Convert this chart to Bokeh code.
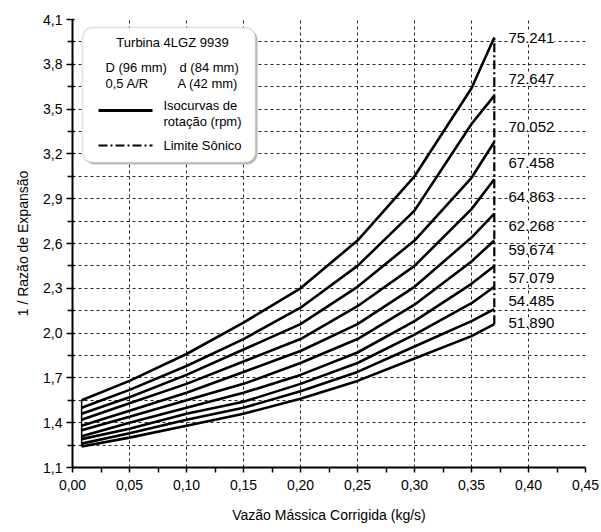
from bokeh.plotting import figure
from bokeh.models import (ColumnDataSource, FixedTicker, CustomJSTickFormatter,
                          LabelSet, Label, BoxAnnotation)
from bokeh.core.properties import value
from bokeh.embed import file_html
from bokeh.resources import INLINE

# ---------------- data ----------------
mass_flow = [0.008, 0.05, 0.10, 0.15, 0.20, 0.25, 0.30, 0.35, 0.37]

rpm_labels = ["51.890", "54.485", "57.079", "59.674", "62.268",
              "64.863", "67.458", "70.052", "72.647", "75.241"]

curve_51890 = [1.24, 1.30, 1.38, 1.46, 1.56, 1.68, 1.83, 1.98, 2.06]
curve_54485 = [1.26, 1.33, 1.42, 1.50, 1.61, 1.74, 1.91, 2.08, 2.16]
curve_57079 = [1.29, 1.36, 1.46, 1.54, 1.66, 1.80, 1.99, 2.20, 2.31]
curve_59674 = [1.31, 1.40, 1.50, 1.60, 1.72, 1.87, 2.08, 2.33, 2.45]
curve_62268 = [1.35, 1.44, 1.55, 1.66, 1.80, 1.96, 2.19, 2.48, 2.62]
curve_64863 = [1.38, 1.48, 1.60, 1.74, 1.88, 2.06, 2.31, 2.64, 2.80]
curve_67458 = [1.42, 1.53, 1.66, 1.81, 1.96, 2.18, 2.45, 2.83, 3.03]
curve_70052 = [1.46, 1.57, 1.72, 1.89, 2.06, 2.31, 2.62, 3.04, 3.28]
curve_72647 = [1.50, 1.62, 1.78, 1.96, 2.17, 2.45, 2.82, 3.40, 3.59]
curve_75241 = [1.55, 1.68, 1.86, 2.07, 2.30, 2.62, 3.05, 3.64, 3.98]

curves = [curve_51890, curve_54485, curve_57079, curve_59674, curve_62268,
          curve_64863, curve_67458, curve_70052, curve_72647, curve_75241]

x_ticks = [0.00, 0.05, 0.10, 0.15, 0.20, 0.25, 0.30, 0.35, 0.40, 0.45]
y_ticks = [1.1, 1.4, 1.7, 2.0, 2.3, 2.6, 2.9, 3.2, 3.5, 3.8, 4.1]

# ---------------- layout helpers (pixel -> data) ----------------
X0, X1, Y0, Y1 = 0.0, 0.45, 1.1, 4.1
FL, FR, FT, FB = 72, 585, 19, 467  # frame in pixels
W, H = 601, 532


def px_x(px):
    return X0 + (px - FL) / (FR - FL) * (X1 - X0)


def px_y(py):
    return Y0 + (FB - py) / (FB - FT) * (Y1 - Y0)


FONT = "Liberation Sans"

p = figure(width=W, height=H, x_range=(X0, X1), y_range=(Y0, Y1),
           output_backend="svg", toolbar_location=None,
           min_border_left=FL, min_border_right=W - FR,
           min_border_top=FT, min_border_bottom=H - FB)
p.outline_line_color = None
p.background_fill_color = "white"
p.border_fill_color = "white"

# axes
for ax in (p.xaxis[0], p.yaxis[0]):
    ax.axis_line_width = 2
    ax.axis_line_color = "black"
    ax.major_tick_line_width = 1.5
    ax.minor_tick_line_width = 1.5
    ax.major_tick_line_color = "black"
    ax.minor_tick_line_color = "black"
    ax.major_label_text_font = FONT
    ax.major_label_text_font_size = "14px"
    ax.major_label_text_color = "black"
    ax.axis_label_text_font = FONT
    ax.axis_label_text_font_size = "14px"
    ax.axis_label_text_font_style = "normal"
    ax.axis_label_text_color = "black"

p.xaxis.ticker = FixedTicker(ticks=x_ticks,
                             minor_ticks=[round(t + 0.025, 3) for t in x_ticks[:-1]])
p.yaxis.ticker = FixedTicker(ticks=y_ticks,
                             minor_ticks=[round(t + 0.15, 2) for t in y_ticks[:-1]])
p.xaxis.formatter = CustomJSTickFormatter(code="return tick.toFixed(2).replace('.', ',');")
p.yaxis.formatter = CustomJSTickFormatter(code="return tick.toFixed(1).replace('.', ',');")
p.xaxis.major_tick_in = 0
p.xaxis.major_tick_out = 5
p.xaxis.minor_tick_in = 0
p.xaxis.minor_tick_out = 5
p.yaxis.major_tick_in = 2
p.yaxis.major_tick_out = 6
p.yaxis.minor_tick_in = 2
p.yaxis.minor_tick_out = 5
p.xaxis.major_label_standoff = 7
p.yaxis.major_label_standoff = 4
p.xaxis.axis_label = "Vazão Mássica Corrigida (kg/s)"
p.yaxis.axis_label = "1 / Razão de Expansão"
p.xaxis.axis_label_standoff = 14
p.yaxis.axis_label_standoff = 9

# grid
p.xgrid.ticker = FixedTicker(ticks=x_ticks[1:-1])
p.ygrid.ticker = FixedTicker(ticks=[round(1.25 + 0.15 * i, 2) for i in range(19)])
for g in (p.xgrid[0], p.ygrid[0]):
    g.grid_line_color = "black"
    g.grid_line_width = 1
    g.grid_line_dash = "3 3"
    g.grid_line_alpha = 0.85

# curves
for ys in curves:
    p.line(mass_flow, ys, line_color="black", line_width=2.6)

# start connector and sonic limit
p.line([mass_flow[0], mass_flow[0]], [curves[0][0], curves[-1][0]],
       line_color="black", line_width=1.5)
p.line([mass_flow[-1], mass_flow[-1]], [curves[0][-1], curves[-1][-1]],
       line_color="black", line_width=2.2, line_dash="9 3 2 3")

# rpm labels
label_y = [px_y(v) for v in (322, 300, 277, 249, 225, 196, 162, 126, 78, 37)]
src = ColumnDataSource(dict(x=[px_x(508)] * len(rpm_labels), y=label_y, t=rpm_labels))
p.add_layout(LabelSet(x="x", y="y", text="t", source=src,
                      text_font=value(FONT), text_font_size="15px",
                      text_color="black", text_baseline="middle", text_align="left",
                      background_fill_color="white"))

# legend box
p.add_layout(BoxAnnotation(left=px_x(84), right=px_x(257), top=px_y(29), bottom=px_y(164),
                           fill_color="#bbbbbb", fill_alpha=1, line_color=None,
                           border_radius=10))
p.add_layout(BoxAnnotation(left=px_x(82), right=px_x(255), top=px_y(27), bottom=px_y(162),
                           fill_color="white", fill_alpha=1, line_color="#9a9a9a",
                           line_width=1.5, border_radius=10))


def lbl(text, px, py, align="left"):
    p.add_layout(Label(x=px_x(px), y=px_y(py), text=text, text_font=FONT,
                       text_font_size="13px", text_color="black",
                       text_align=align, text_baseline="middle"))


lbl("Turbina 4LGZ 9939", 172, 42, "center")
lbl("D (96 mm)", 105, 67)
lbl("d (84 mm)", 179, 67)
lbl("0,5 A/R", 105, 83)
lbl("A (42 mm)", 177, 83)
lbl("Isocurvas de", 163, 105)
lbl("rotação (rpm)", 163, 121)
lbl("Limite Sônico", 163, 145)

p.line([px_x(98), px_x(152)], [px_y(110), px_y(110)], line_color="black", line_width=3,
       level="overlay")
p.line([px_x(98), px_x(152)], [px_y(145), px_y(145)], line_color="black", line_width=2,
       line_dash="9 3 2 3", level="overlay")

open("out.html", "w").write(file_html(p, INLINE))
